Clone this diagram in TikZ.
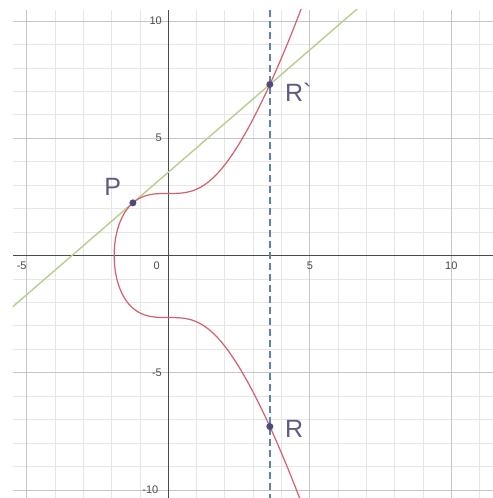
\documentclass[tikz,border=0pt]{standalone}
\usepackage{fontspec}
\setmainfont{Liberation Sans}
\usetikzlibrary{calc}
\definecolor{minorgrid}{HTML}{E6E6E6}
\definecolor{majorgrid}{HTML}{C6C6C6}
\definecolor{axiscol}{HTML}{4A4A4A}
\definecolor{curvecol}{HTML}{D2606C}
\definecolor{tancol}{HTML}{B6CF8E}
\definecolor{dashcol}{HTML}{5E82AD}
\definecolor{ptcol}{HTML}{4E4A80}
\definecolor{labcol}{HTML}{5E5A86}
\begin{document}
\begin{tikzpicture}[x=28.3pt,y=23.45pt,
  minor/.style={draw=minorgrid,line width=0.8pt},
  major/.style={draw=majorgrid,line width=1pt},
  axisline/.style={draw=axiscol,line width=1pt},
  curve/.style={draw=curvecol,line width=1.2pt},
  tangent/.style={draw=tancol,line width=1.4pt},
  vline/.style={draw=dashcol,line width=1.3pt,dash pattern=on 7pt off 4pt},
  dot/.style={circle,fill=ptcol,inner sep=0pt,minimum size=7pt},
  ptlabel/.style={text=labcol,font=\fontsize{25}{25}\selectfont,inner sep=0pt},
  ticklabel/.style={text=axiscol,font=\fontsize{11}{11}\selectfont,inner sep=0pt}]
\useasboundingbox (-5.947,-10.341) rectangle (11.473,10.896);
\fill[white] (-5.947,-10.341) rectangle (11.473,10.896);
\coordinate (BL) at (-5.49,-10.341);
\coordinate (TR) at (11.473,10.47);
\coordinate (Pc) at (-1.25,2.2465);
\coordinate (Rpc) at (3.5885,7.295);
\coordinate (Rc) at (3.5885,-7.295);
\begin{scope}
  \clip (BL) rectangle (TR);
  \foreach \i in {-5,...,11} \draw[minor] (\i,-10.341) -- (\i,10.47);
  \foreach \j in {-10,...,10} \draw[minor] (-5.49,\j) -- (11.473,\j);
  \foreach \i in {-5,5,10} \draw[major] (\i,-10.341) -- (\i,10.47);
  \foreach \j in {-10,-5,5,10} \draw[major] (-5.49,\j) -- (11.473,\j);
  \draw[axisline] (-5.49,0) -- (11.473,0);
  \draw[axisline] (0,-10.341) -- (0,10.47);
  \draw[tangent] ($(Pc)!-1.5!(Rpc)$) -- ($(Pc)!1.9!(Rpc)$);
  \draw[curve] plot[domain=4.75:-1.5,samples=120] (\x,{-sqrt(\x*\x*\x+7)})
    -- plot[domain=-1.904:1.904,samples=60] ({-pow(7-\x*\x,1/3)},\x)
    -- plot[domain=-1.5:4.75,samples=120] (\x,{sqrt(\x*\x*\x+7)});
  \draw[vline] (Rpc |- TR) -- (Rc |- BL);
\end{scope}
\node[dot] (P) at (Pc) {};
\node[dot] (Rp) at (Rpc) {};
\node[dot] (R) at (Rc) {};
\node[ptlabel,anchor=base west] (lP) at (-2.27,2.54) {P};
\node[ptlabel,anchor=base west] (lRp) at (4.12,6.55) {R\textasciigrave};
\node[ptlabel,anchor=base west] (lR) at (4.12,-7.74) {R};
\node[ticklabel,anchor=east] (ty10) at (-0.223,10) {10};
\node[ticklabel,anchor=east] (ty5) at (-0.223,5) {5};
\node[ticklabel,anchor=east] (tym5) at (-0.223,-5) {-5};
\node[ticklabel,anchor=east] (tym10) at (-0.346,-10) {-10};
\node[ticklabel] (tx0) at (-0.41,-0.448) {0};
\node[ticklabel] (txm5) at (-5.18,-0.448) {-5};
\node[ticklabel] (tx5) at (5.007,-0.448) {5};
\node[ticklabel] (tx10) at (10.0,-0.448) {10};
\end{tikzpicture}
\end{document}
